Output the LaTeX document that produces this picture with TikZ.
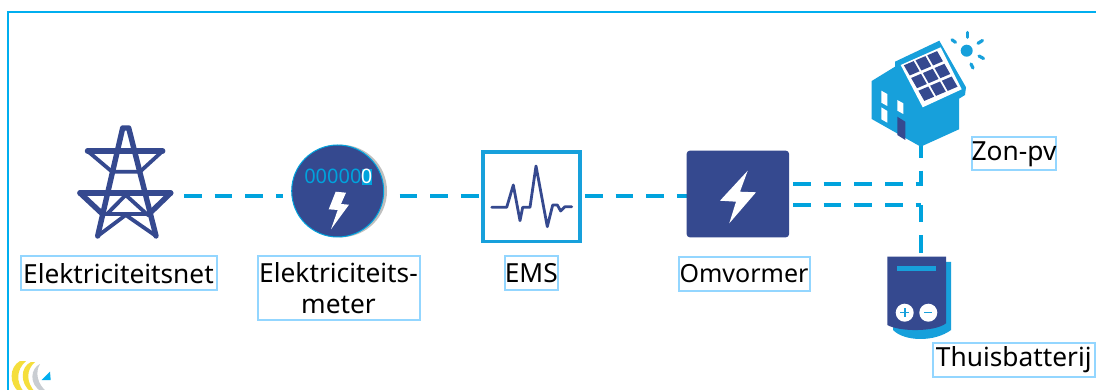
\documentclass[tikz,border=0pt]{standalone}
\usepackage{fontspec}
\setmainfont{Noto Sans}
\definecolor{navy}{HTML}{35498F}
\definecolor{cyanline}{HTML}{00A3DD}
\definecolor{houseblue}{HTML}{17A0DB}
\definecolor{framecol}{HTML}{00AEEF}
\definecolor{labelline}{HTML}{93D6FF}
\definecolor{logoyellow}{HTML}{F5DE3C}
\definecolor{logogray}{HTML}{C9CDD2}
\tikzset{
  x=1pt,y=-1pt,
  link/.style={draw=cyanline,line width=4.4pt,dash pattern=on 17.67pt off 13pt},
  labelbox/.style={draw=labelline,line width=2pt,fill=white,inner sep=0pt,outer sep=0pt,align=center,text=black,font=\fontsize{26.3}{31}\selectfont},
  towerline/.style={draw=navy,line width=5.4pt,line cap=round,line join=round},
  towerthin/.style={draw=navy,line width=3.8pt,line cap=round,line join=round},
  ray/.style={draw=houseblue,line width=3.2pt,line cap=round},
}
\begin{document}
\begin{tikzpicture}
\useasboundingbox (0,0) rectangle (1096,390);
\fill[white] (0,0) rectangle (1096,390);
% frame
\draw[framecol,line width=1.6pt] (8,390) -- (8,12.3) -- (1096,12.3);
% logo
\begin{scope}
\clip (0,350) rectangle (60,390);
\fill[logogray] (40,364) .. controls (31,368) and (28,384) .. (42,392) -- (47,392) .. controls (37,384) and (35,372) .. (40,364) -- cycle;
\fill[logoyellow] (20,361) .. controls (9,367) and (9,384) .. (19,392) -- (24,392) .. controls (16,382) and (16,370) .. (26,361) -- cycle;
\fill[logoyellow] (31,362) .. controls (20,367) and (20,384) .. (31,392) -- (35,392) .. controls (26,382) and (26,370) .. (35,362) -- cycle;
\fill[framecol] (41.7,380) -- (50,371.7) -- (50.7,380) -- cycle;
\end{scope}
% invisible anchors for connectors
\coordinate (rowM) at (0,196);
\coordinate (rowA) at (0,184.3);
\coordinate (rowB) at (0,205);
\node[inner sep=0pt,outer sep=0pt,minimum width=117pt,minimum height=110pt] (nGrid) at (125.5,181) {};
\node[inner sep=0pt,outer sep=0pt,minimum width=117pt,minimum height=92pt] (nMeter) at (341,191) {};
\node[inner sep=0pt,outer sep=0pt,minimum width=100.5pt,minimum height=93pt] (nEms) at (531.5,196.7) {};
\node[inner sep=0pt,outer sep=0pt,minimum width=102.3pt,minimum height=86.6pt] (nInv) at (737.85,194) {};
\node[inner sep=0pt,outer sep=0pt,minimum width=90pt,minimum height=100pt] (nHouse) at (920.7,90) {};
\node[inner sep=0pt,outer sep=0pt,minimum width=66pt,minimum height=86pt] (nBat) at (920.7,295.7) {};
% connectors
\draw[link] (nGrid.east |- rowM) -- (nMeter.west |- rowM);
\draw[link] (nMeter.east |- rowM) -- (nEms.west |- rowM);
\draw[link,shorten <=3.2pt] (nEms.east |- rowM) -- (nInv.west |- rowM);
\draw[link,shorten <=4pt] (nInv.east |- rowA) -- (nHouse.south |- rowA);
\draw[link,shorten <=4pt] (nInv.east |- rowB) -- (nHouse.south |- rowB);
\draw[link,shorten >=-2.2pt] (nHouse.south) -- (nHouse.south |- rowA);
\draw[link] (nBat.north) -- (nBat.north |- rowB);
% tower
\draw[towerthin] (87.5,151) -- (112,171.7) -- (140,171.7) -- (162.7,151);
\draw[towerthin] (103,214) -- (148.5,214);
\draw[towerthin] (107,214) -- (125.7,195) -- (146.7,214);
\draw[towerthin] (97.7,236) -- (125.7,215) -- (156,236);
\draw[towerline] (97.7,236) -- (122.7,128) -- (128.7,128) -- (156,236);
\draw[towerline] (87.5,151) -- (162.7,151);
\draw[towerline] (80,193) -- (170.7,193);
\draw[towerline] (80,193) -- (103,214.5);
\draw[towerline] (170.7,193) -- (148.5,214.5);
% meter
\fill[gray!50] (340.7,191) circle (46.3);
\fill[navy,draw=cyanline,line width=1pt] (337.7,191) circle (46);
\fill[cyanline] (361.5,169) rectangle (371.7,185);
\node[inner sep=0pt,text=cyanline,font=\fontsize{20}{20}\selectfont,anchor=base east] (nDigits) at (361.7,184) {00000};
\node[inner sep=0pt,text=white,font=\fontsize{20}{20}\selectfont,anchor=base] (nDigit) at (366.6,184) {0};
\fill[white] (335.7,191.7) -- (346,192.7) -- (341,204) -- (349,204.7) -- (331,229.3) -- (337.7,210) -- (328.7,209.3) -- cycle;
% EMS
\draw[houseblue,line width=3.6pt] (483.2,152) rectangle (580.2,241.6);
\draw[navy,line width=2.8pt,line join=round,line cap=round] (491.7,207.3) -- (506.7,207.3) -- (513.3,185) -- (520,220.7) -- (522.7,207.3) -- (530,207.3) -- (536,166) -- (547.3,226.7) -- (552.7,205) -- (557.3,205) -- (560.7,211) -- (565,206.7) -- (571.7,206.7);
% inverter
\fill[navy,rounded corners=3pt] (686.7,150.7) rectangle (789,237.3);
\fill[white] (747.7,170.7) -- (720,200.7) -- (736,201.7) -- (729.3,223.3) -- (756,192.3) -- (740,191.7) -- cycle;
% house
\fill[houseblue,line join=round] (871.7,81) -- (895,66.7) -- (895,61.7) -- (939.3,40.7) -- (966,87.3) -- (965,95) -- (959,98.7) -- (959,129.3) -- (920.7,146.7) -- (871.7,119) -- cycle;
\fill[white] (900.7,65) -- (940.7,47.3) -- (961.7,89.3) -- (922.7,107.3) -- cycle;
\foreach \i in {-1,0,1}{\foreach \j in {-1,0,1}{
  \pgfmathsetmacro{\cx}{930.7+\i*11.7+\j*7.3}
  \pgfmathsetmacro{\cy}{76-\i*5+\j*12.7}
  \fill[navy] ({\cx-.42*11.7-.40*7.3},{\cy+.42*5-.40*12.7}) -- ({\cx+.42*11.7-.40*7.3},{\cy-.42*5-.40*12.7}) -- ({\cx+.42*11.7+.40*7.3},{\cy-.42*5+.40*12.7}) -- ({\cx-.42*11.7+.40*7.3},{\cy+.42*5+.40*12.7}) -- cycle;
}}
\fill[white] (881.3,90.7) -- (887.3,94) -- (887.3,106) -- (881.3,102.7) -- cycle;
\fill[white] (881.3,107.3) -- (887.3,111) -- (887.3,122.7) -- (881.3,119.3) -- cycle;
\fill[white] (897.3,100) -- (903.3,103.3) -- (903.3,114) -- (897.3,110.7) -- cycle;
\fill[navy] (897.3,116.7) -- (905.3,121.7) -- (905.3,140) -- (897.3,135) -- cycle;
% sun
\fill[houseblue] (966.7,50.7) circle (6);
\draw[ray] (967.3,32.5) -- (967.3,37.3);
\draw[ray] (978,43.3) -- (982.5,40.5);
\draw[ray] (979,56) -- (983.5,58.5);
\draw[ray] (971,64) -- (973,68);
\draw[ray] (952,39.8) -- (955.5,42.3);
% battery
\fill[houseblue] (895,262) -- (951,262) -- (951,330) .. controls (935,342) and (905,342) .. (893,330) -- cycle;
\fill[navy] (887.3,256.7) -- (946,256.7) -- (946,323.3) .. controls (935,332) and (900,332) .. (887.3,325) -- cycle;
\fill[houseblue] (897.3,265.7) rectangle (936,271.3);
\fill[white] (904.7,312.7) circle (9);
\fill[white] (928.3,312.7) circle (9);
\draw[houseblue,line width=1.6pt] (900.2,312.7) -- (909.2,312.7) (904.7,308.2) -- (904.7,317.2);
\draw[houseblue,line width=1.6pt] (924.3,312.7) -- (932.3,312.7);
% labels
\node[labelbox,minimum width=196pt,minimum height=34pt] (lGrid) at (118.5,273.5) {Elektriciteitsnet};
\node[labelbox,minimum width=162pt,minimum height=64pt] (lMeter) at (338.5,288.5) {Elektriciteits-\\meter};
\node[labelbox,minimum width=51pt,minimum height=34pt] (lEms) at (531.3,273.5) {EMS};
\node[labelbox,minimum width=131pt,minimum height=34pt,font=\fontsize{25}{30}\selectfont] (lInv) at (744,274) {Omvormer};
\node[labelbox,minimum width=83pt,minimum height=33pt] (lPv) at (1014,154) {Zon-pv};
\node[labelbox,minimum width=162pt,minimum height=33pt] (lBat) at (1013.8,360) {Thuisbatterij};
\end{tikzpicture}
\end{document}
